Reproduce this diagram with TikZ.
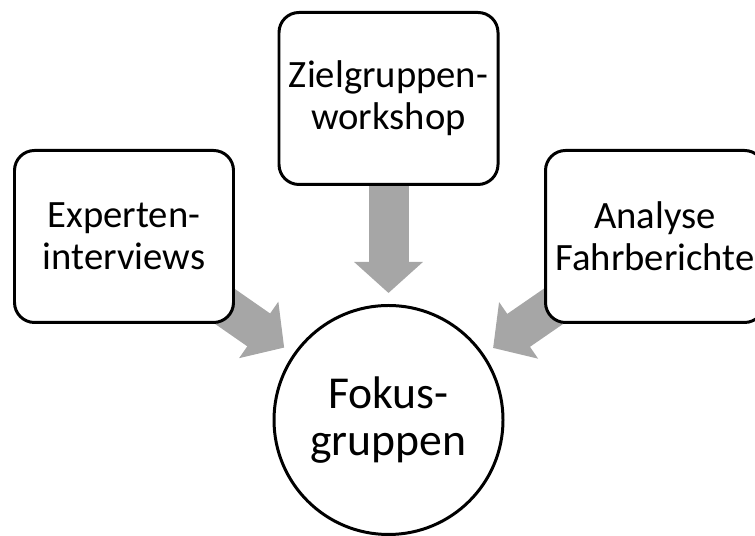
\documentclass[tikz,border=0pt]{standalone}
\usepackage{fontspec}
\setmainfont{Carlito}
\usetikzlibrary{arrows.meta,backgrounds}
\definecolor{pfeilgrau}{HTML}{A6A6A6}
\tikzset{
    quelle/.style={draw,line width=1.7pt,rounded corners=0.4cm,fill=white,
        minimum width=4.38cm,minimum height=3.44cm,align=center,
        font=\fontsize{22}{24}\selectfont},
    ziel/.style={draw,circle,line width=1.7pt,fill=white,minimum size=4.58cm,
        inner sep=0pt,align=center,font=\fontsize{26}{27}\selectfont},
    blockpfeil/.style={draw=pfeilgrau,line width=0.8cm,
        -{Triangle[length=0.62cm,width=1.34cm]},shorten <=-1cm,shorten >=0.22cm}
}
\begin{document}
\begin{tikzpicture}
    \useasboundingbox (0,0) rectangle (15.1,10.72);
    \clip (0,0) rectangle (15.1,10.72);
    \node[quelle] (experten) at (2.48,5.99) {Experten-\\interviews};
    \node[quelle] (workshop) at (7.77,8.75) {Zielgruppen-\\workshop};
    \node[quelle] (fahrberichte) at (13.1,5.99) {Analyse\\Fahrberichte};
    \node[ziel] (fokus) at (7.77,2.32) {Fokus-\\gruppen};
    \begin{scope}[on background layer]
        \draw[blockpfeil] (experten) -- (fokus);
        \draw[blockpfeil] (workshop) -- (fokus);
        \draw[blockpfeil] (fahrberichte) -- (fokus);
    \end{scope}
\end{tikzpicture}
\end{document}
